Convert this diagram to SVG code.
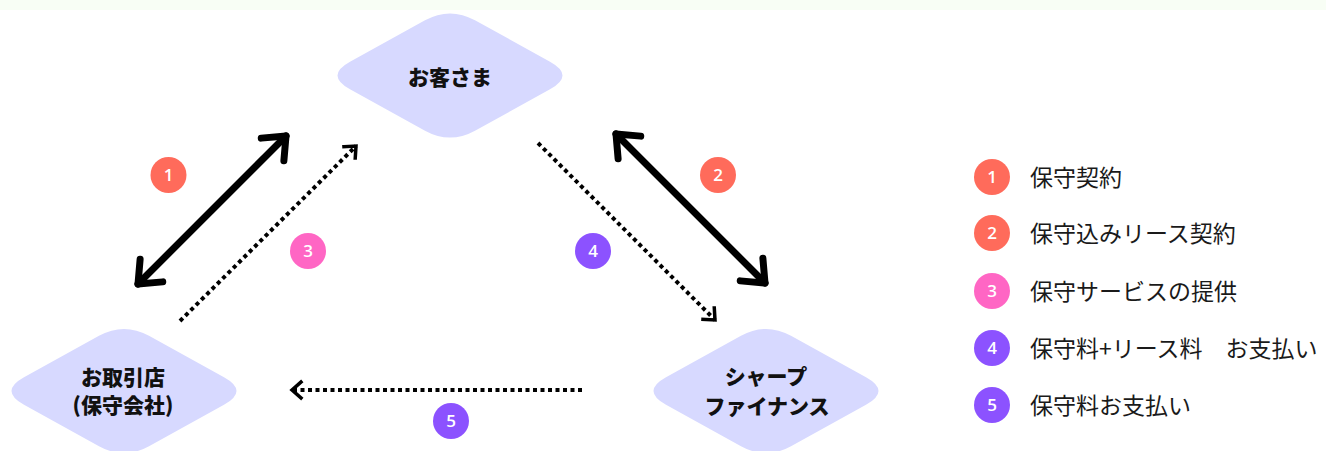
<svg xmlns="http://www.w3.org/2000/svg" xmlns:xlink="http://www.w3.org/1999/xlink" width="1326" height="451" viewBox="0 0 1326 451">
<style>
.dia{fill:#d7d9ff}
.nt{font-family:"Noto Sans CJK JP","Noto Sans",sans-serif;font-weight:900;font-size:21px;fill:#111;text-anchor:middle}
.solid{fill:none;stroke:#000;stroke-width:7;stroke-linecap:round}
.dot{fill:none;stroke:#000;stroke-width:4;stroke-dasharray:4 3.5}
.bt{font-family:"Open Sans","Noto Sans",sans-serif;font-weight:600;font-size:17px;fill:#fff;text-anchor:middle}
.lt{font-family:"Noto Sans CJK JP","Noto Sans",sans-serif;font-size:23px;fill:#1a1a1a}
.c1{fill:#ff6b5b}.c3{fill:#ff66c4}.c4{fill:#8c52ff}
</style>
<defs>
<path id="dshape" d="M -100,-13.8 L -25,-55.2 Q 0,-69 25,-55.2 L 100,-13.8 Q 125,0 100,13.8 L 25,55.2 Q 0,69 -25,55.2 L -100,13.8 Q -125,0 -100,-13.8 Z"/>
<marker id="hs" markerUnits="userSpaceOnUse" viewBox="-24 -20 30 40" refX="0" refY="0" markerWidth="30" markerHeight="40" orient="auto-start-reverse" overflow="visible">
<path d="M -19,-16 L 0,0 L -19,16" fill="none" stroke="#000" stroke-width="7" stroke-linecap="round" stroke-linejoin="round"/>
</marker>
<marker id="hd" markerUnits="userSpaceOnUse" viewBox="-14 -12 18 24" refX="0" refY="0" markerWidth="18" markerHeight="24" orient="auto" overflow="visible">
<path d="M -9,-8 L 0,0 L -9,8" fill="none" stroke="#000" stroke-width="3.5" stroke-linecap="square" stroke-linejoin="miter"/>
</marker>
</defs>
<rect x="0" y="0" width="1326" height="451" fill="#fff"/>
<rect x="0" y="0" width="1326" height="10" fill="#f8fef5"/>
<g id="connectors">
<line class="solid" x1="138" y1="284" x2="286" y2="136" marker-start="url(#hs)" marker-end="url(#hs)"/>
<line class="solid" x1="616" y1="134" x2="765" y2="283" marker-start="url(#hs)" marker-end="url(#hs)"/>
<line class="dot" x1="180" y1="321" x2="356" y2="146" marker-end="url(#hd)"/>
<line class="dot" x1="538" y1="143" x2="715" y2="320" marker-end="url(#hd)"/>
<line class="dot" x1="582" y1="390" x2="292" y2="390" marker-end="url(#hd)"/>
</g>
<g id="node-customer">
<use xlink:href="#dshape" x="450" y="75.5" class="dia"/>
<text class="nt" x="450" y="84.5">お客さま</text>
</g>
<g id="node-dealer">
<use xlink:href="#dshape" x="124" y="391" class="dia"/>
<text class="nt" x="123" y="385">お取引店</text>
<text class="nt" x="123" y="413">(保守会社)</text>
</g>
<g id="node-sharp">
<use xlink:href="#dshape" x="766" y="391" class="dia"/>
<text class="nt" x="766" y="384">シャープ</text>
<text class="nt" x="767" y="414">ファイナンス</text>
</g>
<g id="badges">
<circle class="c1" cx="168.5" cy="175" r="18"/><text class="bt" x="168.5" y="181">1</text>
<circle class="c1" cx="718" cy="175" r="18"/><text class="bt" x="718" y="181">2</text>
<circle class="c3" cx="308" cy="251" r="18"/><text class="bt" x="308" y="257">3</text>
<circle class="c4" cx="593" cy="251" r="18"/><text class="bt" x="593" y="257">4</text>
<circle class="c4" cx="451" cy="421" r="18"/><text class="bt" x="451" y="427">5</text>
</g>
<g id="legend">
<circle class="c1" cx="992" cy="177" r="18"/><text class="bt" x="992" y="183">1</text>
<text class="lt" x="1030" y="185.5">保守契約</text>
<circle class="c1" cx="992" cy="233" r="18"/><text class="bt" x="992" y="239">2</text>
<text class="lt" x="1030" y="241.5">保守込みリース契約</text>
<circle class="c3" cx="992" cy="291" r="18"/><text class="bt" x="992" y="297">3</text>
<text class="lt" x="1030" y="299.5">保守サービスの提供</text>
<circle class="c4" cx="992" cy="348" r="18"/><text class="bt" x="992" y="354">4</text>
<text class="lt" x="1030" y="356.5">保守料+リース料　お支払い</text>
<circle class="c4" cx="992" cy="405" r="18"/><text class="bt" x="992" y="411">5</text>
<text class="lt" x="1030" y="413.5">保守料お支払い</text>
</g>
</svg>
